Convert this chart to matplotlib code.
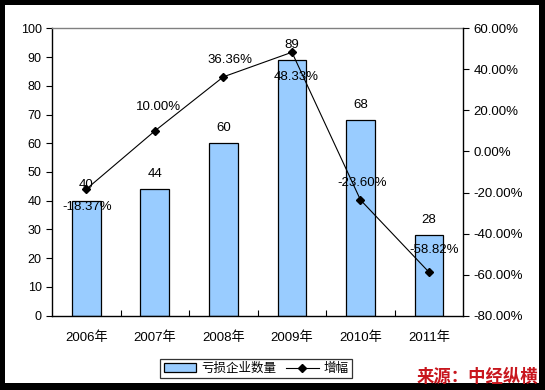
import matplotlib
matplotlib.use('Agg')
import matplotlib.pyplot as plt
from matplotlib.patches import Rectangle
from matplotlib.ticker import FuncFormatter

plt.rcParams['font.family'] = ['Liberation Sans', 'Noto Sans CJK SC', 'DejaVu Sans']

years = ['2006年', '2007年', '2008年', '2009年', '2010年', '2011年']
loss_firms = [40, 44, 60, 89, 68, 28]
growth = [-18.37, 10.00, 36.36, 48.33, -23.60, -58.82]

# label offsets for the growth line (points)
growth_off = [(1, -13), (3, 17), (5, 12), (3, -18), (1, 12), (4, 16)]

fig = plt.figure(figsize=(5.45, 3.90), dpi=100)
fig.set_facecolor('black')
fig.patches.append(Rectangle((5 / 545, 7 / 390), 534 / 545, 378 / 390,
                             transform=fig.transFigure, facecolor='white',
                             edgecolor='none', zorder=-5))

ax = fig.add_axes([52 / 545, 1 - 315.7 / 390, 411.3 / 545, 287.4 / 390])
ax.set_facecolor('white')
x = list(range(len(years)))
bars = ax.bar(x, loss_firms, width=0.42, color='#99CCFF', edgecolor='black',
              linewidth=0.9, label='亏损企业数量', zorder=2)
ax.set_xlim(-0.5, len(years) - 0.5)
ax.set_ylim(0, 100)
ax.set_yticks(range(0, 101, 10))
ax.set_xticks(x)
ax.set_xticklabels(years, family=['Liberation Sans', 'Noto Sans CJK SC'], fontsize=9.5)
ax.set_xticks([i + 0.5 for i in x[:-1]], minor=True)
ax.tick_params(axis='x', which='major', length=0, pad=11)
ax.tick_params(axis='x', which='minor', direction='in', length=4, width=0.8)
ax.tick_params(axis='y', direction='out', length=4, width=0.8, labelsize=9)
for s in ['left', 'bottom']:
    ax.spines[s].set_color('black')
    ax.spines[s].set_linewidth(1)
ax.spines['top'].set_color('#808080')
ax.spines['top'].set_linewidth(1)
ax.spines['right'].set_visible(False)

for xi, v in zip(x, loss_firms):
    ax.annotate(str(v), (xi, v), xytext=(0, 11), textcoords='offset points',
                ha='center', va='center', fontsize=9.5)

ax2 = ax.twinx()
line, = ax2.plot(x, growth, color='black', linewidth=0.8, marker='D',
                 markersize=3.8, label='增幅', zorder=3)
ax2.set_ylim(-80, 60)
ax2.set_yticks(range(-80, 61, 20))
ax2.yaxis.set_major_formatter(FuncFormatter(lambda v, p: f'{v:.2f}%'))
ax2.tick_params(axis='y', direction='out', length=4, width=0.8, labelsize=9.5)
ax2.spines['right'].set_color('black')
ax2.spines['right'].set_linewidth(1)
for s in ['top', 'left', 'bottom']:
    ax2.spines[s].set_visible(False)

for xi, v, off in zip(x, growth, growth_off):
    ax2.annotate(f'{v:.2f}%', (xi, v), xytext=off, textcoords='offset points',
                 ha='center', va='center', fontsize=9.5)

leg = fig.legend([bars, line], ['亏损企业数量', '增幅'], ncol=2,
                 loc='center', bbox_to_anchor=(256 / 545, 1 - 368.5 / 390),
                 frameon=True, fancybox=False, edgecolor='black',
                 prop={'family': ['Noto Sans CJK SC'], 'size': 9},
                 handlelength=2.6, handletextpad=0.4, columnspacing=0.8,
                 borderpad=0.25)
leg.get_frame().set_linewidth(0.9)

fig.text(538 / 545, 1 - 377 / 390, '来源：中经纵横', ha='right', va='center',
         color='#C8161D', fontsize=12.5, fontweight='bold', style='italic',
         family=['Noto Sans CJK SC'])

fig.savefig('out.png', dpi=100, facecolor=fig.get_facecolor())
